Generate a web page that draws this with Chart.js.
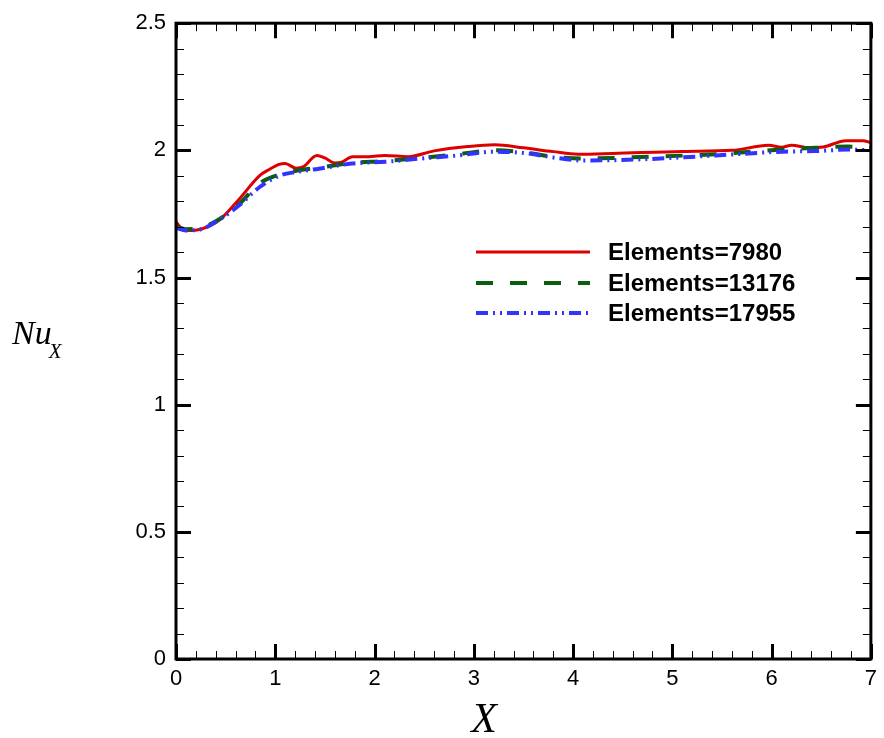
<!DOCTYPE html>
<html>
<head>
<meta charset="utf-8">
<script src="https://cdn.jsdelivr.net/npm/chart.js@4.4.1/dist/chart.umd.min.js"></script>
<style>
  html, body { margin: 0; padding: 0; background: #fff; }
  #wrap { width: 884px; height: 738px; }
</style>
</head>
<body>
<div id="wrap"><canvas id="nuChart" width="884" height="738"></canvas></div>
<script>
'use strict';

// datos
const seriesLabels = ['Elements=7980', 'Elements=13176', 'Elements=17955'];

const x7980  = [0, 0.05, 0.12, 0.25, 0.44, 0.64, 0.84, 0.94, 1.04, 1.1, 1.21, 1.28, 1.42, 1.5, 1.6, 1.66, 1.78, 1.94, 2.1, 2.34, 2.6, 2.94, 3.21, 3.5, 3.8, 4.05, 4.4, 5.1, 5.6, 5.97, 6.1, 6.2, 6.38, 6.52, 6.75, 6.92, 7.0];
const y7980  = [1.72, 1.695, 1.685, 1.69, 1.727, 1.81, 1.90, 1.925, 1.945, 1.948, 1.93, 1.935, 1.98, 1.97, 1.95, 1.952, 1.975, 1.975, 1.98, 1.975, 1.998, 2.015, 2.022, 2.01, 1.995, 1.985, 1.988, 1.996, 2.0, 2.02, 2.012, 2.02, 2.01, 2.013, 2.038, 2.038, 2.03];

const x13176 = [0, 0.1, 0.25, 0.44, 0.64, 0.84, 1.04, 1.21, 1.44, 1.77, 2.11, 2.47, 2.84, 3.21, 3.54, 3.8, 4.1, 4.77, 5.44, 6.11, 6.44, 6.77, 7.0];
const y13176 = [1.70, 1.69, 1.695, 1.73, 1.79, 1.87, 1.905, 1.92, 1.932, 1.95, 1.958, 1.97, 1.985, 2.0, 1.99, 1.975, 1.968, 1.975, 1.985, 2.003, 2.01, 2.015, 2.01];

const x17955 = [0, 0.1, 0.25, 0.44, 0.64, 0.84, 1.04, 1.21, 1.44, 1.77, 2.11, 2.47, 2.84, 3.21, 3.54, 3.8, 4.1, 4.77, 5.44, 6.11, 6.44, 6.77, 7.0];
const y17955 = [1.695, 1.685, 1.69, 1.728, 1.785, 1.855, 1.9, 1.915, 1.928, 1.948, 1.955, 1.968, 1.98, 1.995, 1.988, 1.972, 1.96, 1.966, 1.98, 1.995, 1.997, 2.003, 2.0];

const xTicks = [0, 1, 2, 3, 4, 5, 6, 7];
const yTicks = [0, 0.5, 1, 1.5, 2, 2.5];

const toPts = (xs, ys) => xs.map((x, i) => ({ x, y: ys[i] }));

const FONT_SANS = 'Arial, "Liberation Sans", sans-serif';
const FONT_SERIF = '"Times New Roman", "Liberation Serif", serif';

const styles = [
  { color: '#dd0000', width: 3, dash: [] },
  { color: '#0b5e0b', width: 4, dash: [17, 17] },
  { color: '#3333ff', width: 4, dash: [12, 5, 2, 5, 2, 5] }
];

// marco, marcas de ejes, leyenda y títulos
const framePlugin = {
  id: 'frame',
  afterDraw(chart) {
    const { ctx, chartArea: a, scales } = chart;
    const sx = scales.x, sy = scales.y;
    ctx.save();
    ctx.strokeStyle = '#000';

    // minor/major ticks hacia adentro, en los cuatro lados
    for (let i = 0; i <= 35; i++) {
      const v = i * 0.2;
      const major = i % 5 === 0;
      const px = Math.round(sx.getPixelForValue(v)) + 0.5;
      const len = major ? 15 : 8;
      ctx.lineWidth = major ? 3 : 1;
      ctx.beginPath();
      ctx.moveTo(px, a.bottom); ctx.lineTo(px, a.bottom - len);
      ctx.moveTo(px, a.top);    ctx.lineTo(px, a.top + len);
      ctx.stroke();
    }
    for (let i = 0; i <= 25; i++) {
      const v = i * 0.1;
      const major = i % 5 === 0;
      const py = Math.round(sy.getPixelForValue(v)) + 0.5;
      const len = major ? 15 : 8;
      ctx.lineWidth = major ? 3 : 1;
      ctx.beginPath();
      ctx.moveTo(a.left, py);  ctx.lineTo(a.left + len, py);
      ctx.moveTo(a.right, py); ctx.lineTo(a.right - len, py);
      ctx.stroke();
    }

    ctx.lineWidth = 3;
    ctx.strokeRect(a.left, a.top, a.right - a.left, a.bottom - a.top);

    // leyenda
    const lx0 = 476, lx1 = 590, tx = 608;
    const ly = [252, 283, 313];
    seriesLabels.forEach((lbl, i) => {
      const s = styles[i];
      ctx.strokeStyle = s.color;
      ctx.lineWidth = s.width;
      ctx.setLineDash(s.dash);
      ctx.beginPath();
      ctx.moveTo(lx0, ly[i]); ctx.lineTo(lx1, ly[i]);
      ctx.stroke();
      ctx.setLineDash([]);
      ctx.fillStyle = '#000';
      ctx.font = 'bold 24px ' + FONT_SANS;
      ctx.textBaseline = 'middle';
      ctx.textAlign = 'left';
      ctx.fillText(lbl, tx, ly[i] + 1);
    });

    // títulos
    ctx.fillStyle = '#000';
    ctx.textBaseline = 'alphabetic';
    ctx.font = 'italic 42px ' + FONT_SERIF;
    ctx.textAlign = 'center';
    ctx.fillText('X', 484, 732);

    ctx.textAlign = 'left';
    ctx.font = 'italic 34px ' + FONT_SERIF;
    ctx.fillText('Nu', 12, 344);
    const w = ctx.measureText('Nu').width;
    ctx.font = 'italic 21px ' + FONT_SERIF;
    ctx.fillText('X', 12 + w - 3, 358);
    ctx.restore();
  }
};

new Chart(document.getElementById('nuChart'), {
  type: 'line',
  data: {
    datasets: [
      { label: seriesLabels[0], data: toPts(x7980, y7980) },
      { label: seriesLabels[1], data: toPts(x13176, y13176) },
      { label: seriesLabels[2], data: toPts(x17955, y17955) }
    ].map((d, i) => Object.assign(d, {
      borderColor: styles[i].color,
      borderWidth: styles[i].width,
      borderDash: styles[i].dash,
      pointRadius: 0,
      fill: false,
      cubicInterpolationMode: 'monotone'
    })).reverse()
  },
  options: {
    responsive: false,
    animation: false,
    layout: { padding: { top: 19, right: 9, left: 0, bottom: 0 } },
    plugins: { legend: { display: false }, tooltip: { enabled: false } },
    scales: {
      x: {
        type: 'linear', min: 0, max: 7,
        afterBuildTicks: s => { s.ticks = xTicks.map(v => ({ value: v })); },
        ticks: { color: '#000', font: { family: FONT_SANS, size: 22 }, padding: 7, maxRotation: 0,
                 callback: v => String(v) },
        grid: { display: false, drawTicks: false },
        border: { display: false },
        afterFit: s => { s.height = 79; }
      },
      y: {
        type: 'linear', min: 0, max: 2.5,
        afterBuildTicks: s => { s.ticks = yTicks.map(v => ({ value: v })); },
        ticks: { color: '#000', font: { family: FONT_SANS, size: 22 }, padding: 10,
                 callback: v => String(v) },
        grid: { display: false, drawTicks: false },
        border: { display: false },
        afterFit: s => { s.width = 176; }
      }
    }
  },
  plugins: [framePlugin]
});
</script>
</body>
</html>
